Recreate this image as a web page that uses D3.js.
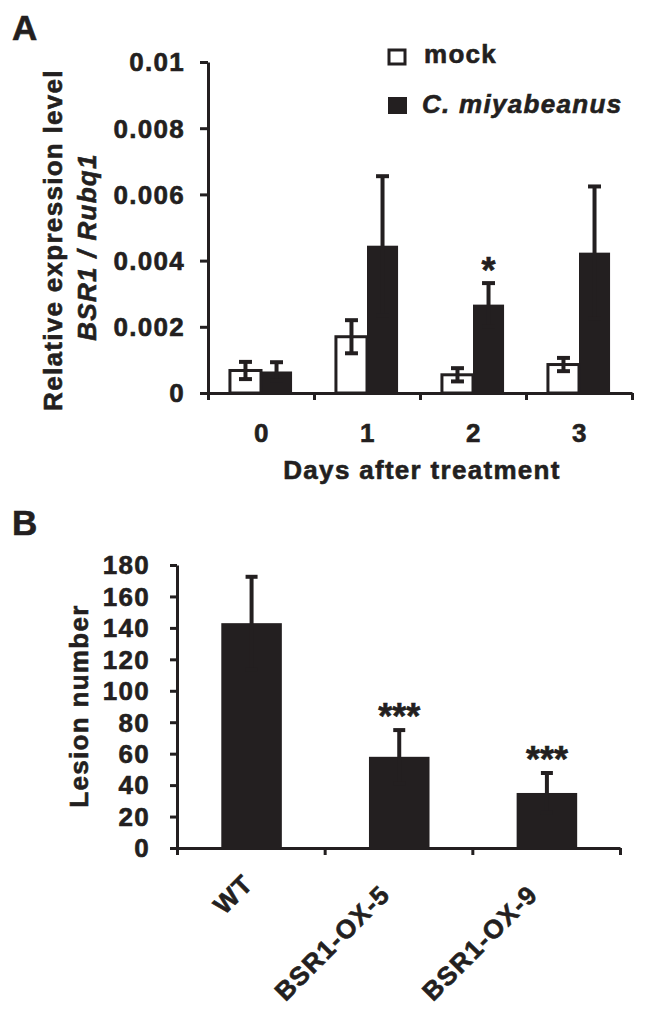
<!DOCTYPE html>
<html><head><meta charset="utf-8">
<script src="https://cdn.jsdelivr.net/npm/d3@7"></script>
<style>
html,body{margin:0;padding:0;background:#fff;}
text{font-family:"Liberation Sans",Arial,sans-serif;font-weight:bold;fill:#231f20;stroke:#231f20;stroke-width:0.6px;}
</style></head><body>
<script>
// ---------- Data ----------
const days = ["0", "1", "2", "3"];
const series = ["mock", "C. miyabeanus"];
const mockMean = [0.00068, 0.0017, 0.00055, 0.00086];
const mockErr  = [0.00026, 0.0005, 0.0002, 0.0002];
const cmMean   = [0.00065, 0.00445, 0.00267, 0.00424];
const cmErr    = [0.00028, 0.0021, 0.00065, 0.002];
const sigA     = ["", "", "*", ""];
const yTicksA  = [0, 0.002, 0.004, 0.006, 0.008, 0.01];
const yTickLabelsA = ["0", "0.002", "0.004", "0.006", "0.008", "0.01"];

const lines     = ["WT", "BSR1-OX-5", "BSR1-OX-9"];
const lesion    = [143, 58, 35];
const lesionErr = [29.5, 17, 12.7];
const sigB      = ["", "***", "***"];
const yTicksB   = [0, 20, 40, 60, 80, 100, 120, 140, 160, 180];

// ---------- Setup ----------
const W = 646, H = 1015;
const INK = "#231f20";
const FS = 26, LS = 1.3;
const svg = d3.select("body").append("svg").attr("width", W).attr("height", H);
svg.append("rect").attr("width", W).attr("height", H).attr("fill", "#fff");

function errBar(g, x, y0, y1, capW) {
  g.append("line").attr("x1", x).attr("x2", x).attr("y1", y0).attr("y2", y1)
    .attr("stroke", INK).attr("stroke-width", 4);
  [y0, y1].forEach(yy => g.append("line").attr("x1", x - capW / 2).attr("x2", x + capW / 2)
    .attr("y1", yy).attr("y2", yy).attr("stroke", INK).attr("stroke-width", 4));
}
function styleAxis(g) {
  g.selectAll("path.domain").attr("stroke", INK).attr("stroke-width", 3);
  g.selectAll(".tick line").attr("stroke", INK).attr("stroke-width", 3);
  g.selectAll(".tick text").remove();
}

// ---------- Panel A ----------
const gA = svg.append("g");
const yA = d3.scaleLinear().domain([0, 0.01]).range([393, 62]);
const xA = d3.scaleBand().domain(days).range([208, 632]).padding(0);
const xA1 = d3.scaleBand().domain(series)
  .range([xA.bandwidth() * 0.207, xA.bandwidth() * 0.793]).padding(0);
const xABound = d3.scaleLinear().domain([0, days.length]).range(xA.range());

days.forEach((d, i) => {
  const xm = xA(d) + xA1(series[0]);
  const xc = xA(d) + xA1(series[1]);
  const bw = xA1.bandwidth();
  gA.append("rect").attr("x", xc).attr("y", yA(cmMean[i])).attr("width", bw)
    .attr("height", yA(0) - yA(cmMean[i])).attr("fill", INK);
  gA.append("rect").attr("x", xm).attr("y", yA(mockMean[i])).attr("width", bw)
    .attr("height", yA(0) - yA(mockMean[i])).attr("fill", "#fff")
    .attr("stroke", INK).attr("stroke-width", 3);
  errBar(gA, xm + bw / 2, yA(mockMean[i] + mockErr[i]), yA(mockMean[i] - mockErr[i]), 13);
  errBar(gA, xc + bw / 2, yA(cmMean[i] + cmErr[i]), yA(cmMean[i] - cmErr[i]), 13);
  if (sigA[i]) {
    gA.append("text").attr("x", xc + bw / 2).attr("y", yA(cmMean[i] + cmErr[i]))
      .attr("text-anchor", "middle").attr("font-size", 36).text(sigA[i]);
  }
});

const axYA = gA.append("g").attr("transform", "translate(208,0)")
  .call(d3.axisLeft(yA).tickValues(yTicksA).tickSize(8).tickSizeOuter(0));
styleAxis(axYA);
yTicksA.forEach((t, i) => {
  gA.append("text").attr("x", 185).attr("y", yA(t)).attr("dy", "0.36em")
    .attr("text-anchor", "end").attr("font-size", FS).attr("letter-spacing", LS)
    .text(yTickLabelsA[i]);
});
const axXA = gA.append("g").attr("transform", "translate(0,393)")
  .call(d3.axisBottom(xABound).ticks(days.length).tickSize(7).tickSizeOuter(0));
styleAxis(axXA);
days.forEach(d => {
  gA.append("text").attr("x", xA(d) + xA.bandwidth() / 2 + 1).attr("y", 442)
    .attr("text-anchor", "middle").attr("font-size", FS).attr("letter-spacing", LS).text(d);
});
gA.append("text").attr("x", 422).attr("y", 479).attr("text-anchor", "middle")
  .attr("font-size", FS).attr("letter-spacing", LS).text("Days after treatment");
gA.append("text").attr("transform", "translate(62,240) rotate(-90)")
  .attr("text-anchor", "middle").attr("font-size", FS).attr("letter-spacing", LS)
  .text("Relative expression level");
gA.append("text").attr("transform", "translate(96,247) rotate(-90)")
  .attr("text-anchor", "middle").attr("font-size", FS).attr("letter-spacing", LS)
  .attr("font-style", "italic").text("BSR1 / Rubq1");
gA.append("text").attr("x", 12).attr("y", 40).attr("font-size", 35).text("A");

// legend
gA.append("rect").attr("x", 389).attr("y", 50).attr("width", 16).attr("height", 14)
  .attr("fill", "#fff").attr("stroke", INK).attr("stroke-width", 3);
gA.append("text").attr("x", 424).attr("y", 63).attr("font-size", FS).attr("letter-spacing", LS).text(series[0]);
gA.append("rect").attr("x", 388).attr("y", 97).attr("width", 19).attr("height", 17).attr("fill", INK);
gA.append("text").attr("x", 422).attr("y", 113).attr("font-size", FS).attr("letter-spacing", LS)
  .attr("font-style", "italic").text(series[1]);

// ---------- Panel B ----------
const gB = svg.append("g");
const yB = d3.scaleLinear().domain([0, 180]).range([848, 565]);
const xB = d3.scaleBand().domain(lines).range([177, 620]).padding(0);
const xBBound = d3.scaleLinear().domain([0, lines.length]).range(xB.range());
const bwB = xB.bandwidth() * 0.41;
lines.forEach((d, i) => {
  const cx = xB(d) + xB.bandwidth() * 0.505;
  gB.append("rect").attr("x", cx - bwB / 2).attr("y", yB(lesion[i])).attr("width", bwB)
    .attr("height", yB(0) - yB(lesion[i])).attr("fill", INK);
  errBar(gB, cx, yB(lesion[i] + lesionErr[i]), yB(lesion[i] - lesionErr[i]), 12);
  if (sigB[i]) {
    gB.append("text").attr("x", cx).attr("y", yB(lesion[i] + lesionErr[i]) - 1)
      .attr("text-anchor", "middle").attr("font-size", 36).text(sigB[i]);
  }
  const t = gB.append("text").attr("text-anchor", "end").attr("font-size", FS)
    .attr("letter-spacing", LS).text(d);
  const len = t.node().getComputedTextLength();
  const s = Math.max(0, 150 - len) * 0.14;
  const px = cx - 7.5 + s * Math.SQRT1_2, py = 896 - s * Math.SQRT1_2;
  t.attr("transform", `translate(${px},${py}) rotate(-45)`);
});
const axYB = gB.append("g").attr("transform", "translate(177,0)")
  .call(d3.axisLeft(yB).tickValues(yTicksB).tickSize(7).tickSizeOuter(0));
styleAxis(axYB);
yTicksB.forEach(t => {
  gB.append("text").attr("x", 150).attr("y", yB(t)).attr("dy", "0.36em")
    .attr("text-anchor", "end").attr("font-size", FS).attr("letter-spacing", LS).text(t);
});
const axXB = gB.append("g").attr("transform", "translate(0,848)")
  .call(d3.axisBottom(xBBound).ticks(lines.length).tickSize(7).tickSizeOuter(0));
styleAxis(axXB);
gB.append("text").attr("transform", "translate(88,706) rotate(-90)")
  .attr("text-anchor", "middle").attr("font-size", FS).attr("letter-spacing", LS)
  .text("Lesion number");
gB.append("text").attr("x", 12).attr("y", 535).attr("font-size", 35).text("B");
</script>
</body></html>
